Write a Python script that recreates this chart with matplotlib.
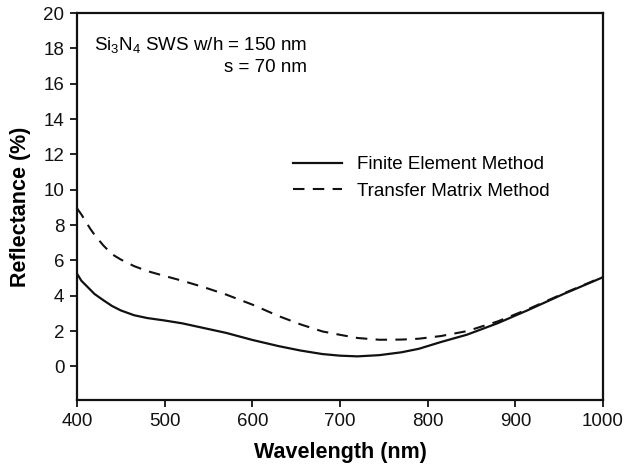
import matplotlib
matplotlib.use("Agg")
import matplotlib.pyplot as plt

wavelength = [400, 405, 410, 415, 420, 430, 440, 450, 465, 480, 500, 520, 545, 570, 600,
              630, 655, 680, 700, 720, 745, 770, 790, 815, 845, 880, 915, 955, 1000]
fem = [5.25, 4.85, 4.6, 4.35, 4.1, 3.75, 3.42, 3.17, 2.9, 2.74, 2.6, 2.44, 2.17, 1.9, 1.5,
       1.15, 0.9, 0.7, 0.61, 0.57, 0.64, 0.8, 1.0, 1.38, 1.8, 2.45, 3.2, 4.1, 5.05]
tmm = [8.95, 8.6, 8.2, 7.8, 7.45, 6.85, 6.35, 6.05, 5.68, 5.4, 5.12, 4.85, 4.48, 4.07, 3.5,
       2.85, 2.38, 1.98, 1.79, 1.61, 1.51, 1.52, 1.57, 1.72, 2.0, 2.55, 3.25, 4.13, 5.07]
xticks = [400, 500, 600, 700, 800, 900, 1000]
yticks = [0, 2, 4, 6, 8, 10, 12, 14, 16, 18, 20]

plt.rcParams['font.family'] = ['Liberation Sans', 'DejaVu Sans']
plt.rcParams['mathtext.fontset'] = 'custom'
plt.rcParams['mathtext.rm'] = 'Liberation Sans'
plt.rcParams['mathtext.default'] = 'regular'

fig = plt.figure(figsize=(6.25, 4.66), dpi=100)
ax = fig.add_axes([0.1232, 0.1416, 0.8416, 0.8304])

ax.plot(wavelength, fem, color='#111111', lw=1.6, label='Finite Element Method',
        solid_joinstyle='round')
ax.plot(wavelength, tmm, color='#111111', lw=1.5, ls=(0, (5.5, 4)),
        label='Transfer Matrix Method')

ax.set_xlim(400, 1000)
ax.set_ylim(-1.9, 20)
ax.set_xticks(xticks)
ax.set_yticks(yticks)
ax.tick_params(direction='out', length=5, width=1.3, labelsize=13.5, colors='#111111', pad=4)
for s in ax.spines.values():
    s.set_linewidth(1.6)
    s.set_color('#111111')

ax.set_xlabel('Wavelength (nm)', fontsize=15.5, fontweight='bold', labelpad=9)
ax.set_ylabel('Reflectance (%)', fontsize=15.5, fontweight='bold', labelpad=9)

ax.text(0.437, 0.917, r'Si$_3$N$_4$ SWS w/h = 150 nm', transform=ax.transAxes,
        ha='right', va='center', fontsize=13.5)
ax.text(0.437, 0.860, 's = 70 nm', transform=ax.transAxes,
        ha='right', va='center', fontsize=13.5)

leg = ax.legend(loc='upper left', bbox_to_anchor=(0.411, 0.630), frameon=False,
                fontsize=13.5, handlelength=2.6, handletextpad=0.8, labelspacing=0.5,
                borderaxespad=0, borderpad=0)

fig.savefig('out.png', dpi=100)
